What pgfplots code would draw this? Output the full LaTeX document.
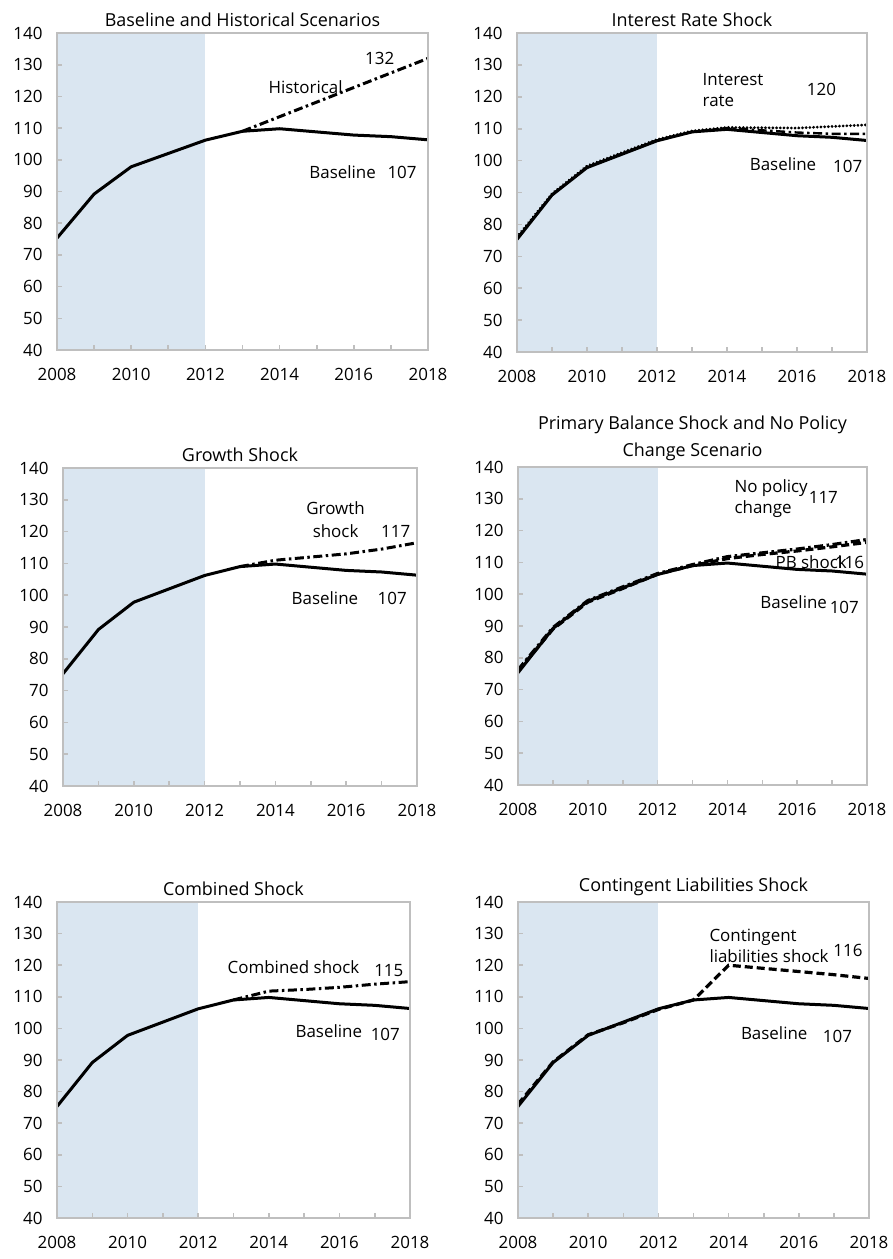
\documentclass[border=0pt]{standalone}
\usepackage{pgfplots}
\usepackage{pgfplotstable}
\pgfplotsset{compat=1.18}
\usepackage{fontspec}
\setmainfont{Open Sans}
\definecolor{shade}{RGB}{218,230,241}
\definecolor{framegray}{RGB}{191,191,191}

\pgfplotstableread{
year base hist irate irdd growth pb nopol comb cont
2008 75.3 nan 76.0 75.6 nan 75.8 76.2 nan 76.0
2009 89.2 nan 89.6 89.3 nan 89.0 89.5 nan 89.4
2010 97.8 nan 98.3 98.0 nan 97.5 98.0 nan 98.0
2011 102.0 nan 102.5 102.2 nan 101.8 102.3 nan 101.8
2012 106.2 nan 106.6 106.4 nan 106.3 106.5 nan 106.0
2013 109.0 109.0 109.3 109.0 109.0 109.0 109.3 109.0 109.0
2014 109.8 113.6 110.4 110.2 111.0 111.2 111.8 111.8 120.0
2015 108.8 118.2 110.3 109.5 112.0 112.5 113.0 112.3 119.0
2016 107.8 122.8 110.2 108.8 113.0 113.6 114.2 113.0 118.0
2017 107.3 127.4 110.7 108.4 114.5 114.9 115.6 114.0 117.0
2018 106.3 132.0 111.2 108.4 116.5 116.3 117.2 114.8 115.8
}\data

\tikzset{lab/.style={font=\fontsize{17}{21}\selectfont, inner sep=0pt}}

\pgfplotsset{
  panel/.style={
    scale only axis, anchor=south west,
    xmin=2008, xmax=2018, ymin=40, ymax=140,
    xtick={2008,2010,...,2018}, minor xtick={2009,2011,...,2017},
    ytick={40,50,...,140},
    tick align=inside, xtick pos=bottom, ytick pos=left,
    axis line style={draw=framegray, line width=2.2bp},
    major tick length=5bp, minor tick length=5bp,
    every tick/.append style={draw=framegray, line width=1.6bp},
    every minor tick/.append style={draw=framegray, line width=1.6bp},
    /pgf/number format/.cd, 1000 sep={}, assume math mode=true, /pgfplots/.cd,
    tick label style={font=\fontsize{17}{21}\selectfont},
    yticklabel style={xshift=-11bp},
    xticklabel style={yshift=-15bp},
    title style={font=\fontsize{18}{27}\selectfont, at={(0.5,1)}, anchor=south, yshift=-1.5bp, inner sep=2bp, align=center},
    axis on top,
    clip=true,
  },
  base/.style={black, line width=3bp, line join=round, no marks},
  dashdot/.style={black, line width=3bp, line join=round, no marks, dash pattern=on 9bp off 3.5bp on 2.5bp off 3.5bp},
  dotline/.style={black, line width=3bp, no marks, line cap=round, dash pattern=on 0.1bp off 3.6bp},
  dashline/.style={black, line width=3.2bp, no marks, dash pattern=on 8bp off 4bp},
}

\begin{document}
\begin{tikzpicture}
\path (0bp,0bp) rectangle (893bp,-1259bp);

% Panel 1
\begin{axis}[panel, at={(57bp,-350bp)}, width=371bp, height=317bp, title={Baseline and Historical Scenarios}]
\addplot[fill=shade, draw=none] coordinates {(2008,40) (2008,140) (2012,140) (2012,40)} -- cycle;
\addplot[base] table[x=year, y=base] {\data};
\addplot[dashdot] table[x=year, y=hist] {\data};
\node[lab] at (axis cs:2016.7,132) {132};
\node[lab] at (axis cs:2014.7,123) {Historical};
\node[lab] at (axis cs:2015.7,96) {Baseline};
\node[lab] at (axis cs:2017.3,96) {107};
\end{axis}

% Panel 2
\begin{axis}[panel, at={(517bp,-352bp)}, width=350bp, height=319bp, title={Interest Rate Shock}]
\addplot[fill=shade, draw=none] coordinates {(2008,40) (2008,140) (2012,140) (2012,40)} -- cycle;
\addplot[base] table[x=year, y=base] {\data};
\addplot[dashdot, line width=2.4bp] table[x=year, y=irdd] {\data};
\addplot[dotline] table[x=year, y=irate] {\data};
\node[lab, align=left, anchor=west] at (axis cs:2013.3,122) {Interest\\rate};
\node[lab] at (axis cs:2016.7,122.4) {120};
\node[lab] at (axis cs:2015.6,99) {Baseline};
\node[lab] at (axis cs:2017.45,98.3) {107};
\end{axis}

% Panel 3
\begin{axis}[panel, at={(63bp,-786bp)}, width=354bp, height=318bp, title={Growth Shock}]
\addplot[fill=shade, draw=none] coordinates {(2008,40) (2008,140) (2012,140) (2012,40)} -- cycle;
\addplot[base] table[x=year, y=base] {\data};
\addplot[dashdot] table[x=year, y=growth] {\data};
\node[lab] at (axis cs:2015.7,127.4) {Growth};
\node[lab] at (axis cs:2015.7,120.2) {shock};
\node[lab] at (axis cs:2017.4,120.2) {117};
\node[lab] at (axis cs:2015.4,99) {Baseline};
\node[lab] at (axis cs:2017.3,99) {107};
\end{axis}

% Panel 4
\begin{axis}[panel, at={(518bp,-785bp)}, width=349bp, height=318bp, title={Primary Balance Shock and No Policy\\Change Scenario}]
\addplot[fill=shade, draw=none] coordinates {(2008,40) (2008,140) (2012,140) (2012,40)} -- cycle;
\addplot[base] table[x=year, y=base] {\data};
\addplot[dashline] table[x=year, y=pb] {\data};
\addplot[dashdot, line width=3.2bp] table[x=year, y=nopol] {\data};
\node[lab, align=left, anchor=west] at (axis cs:2014.2,130.1) {No policy\\change};
\node[lab] at (axis cs:2016.75,130.3) {117};
\node[lab] at (axis cs:2016.4,110) {PB shock};
\node[lab] at (axis cs:2017.5,110) {116};
\node[lab] at (axis cs:2015.9,97.5) {Baseline};
\node[lab] at (axis cs:2017.35,95.7) {107};
\end{axis}

% Panel 5
\begin{axis}[panel, at={(57bp,-1218bp)}, width=353bp, height=316bp, title={Combined Shock}]
\addplot[fill=shade, draw=none] coordinates {(2008,40) (2008,140) (2012,140) (2012,40)} -- cycle;
\addplot[base] table[x=year, y=base] {\data};
\addplot[dashdot] table[x=year, y=comb] {\data};
\node[lab] at (axis cs:2014.7,119.5) {Combined shock};
\node[lab] at (axis cs:2017.4,118.3) {115};
\node[lab] at (axis cs:2015.7,99) {Baseline};
\node[lab] at (axis cs:2017.3,98.2) {107};
\end{axis}

% Panel 6
\begin{axis}[panel, at={(518bp,-1218bp)}, width=351bp, height=316bp, title={Contingent Liabilities Shock}]
\addplot[fill=shade, draw=none] coordinates {(2008,40) (2008,140) (2012,140) (2012,40)} -- cycle;
\addplot[base] table[x=year, y=base] {\data};
\addplot[dashline] table[x=year, y=cont] {\data};
\node[lab, align=left, anchor=west] at (axis cs:2013.45,126.2) {Contingent\\liabilities shock};
\node[lab] at (axis cs:2017.4,124.6) {116};
\node[lab] at (axis cs:2015.3,98.4) {Baseline};
\node[lab] at (axis cs:2017.1,97.6) {107};
\end{axis}
\end{tikzpicture}
\end{document}
